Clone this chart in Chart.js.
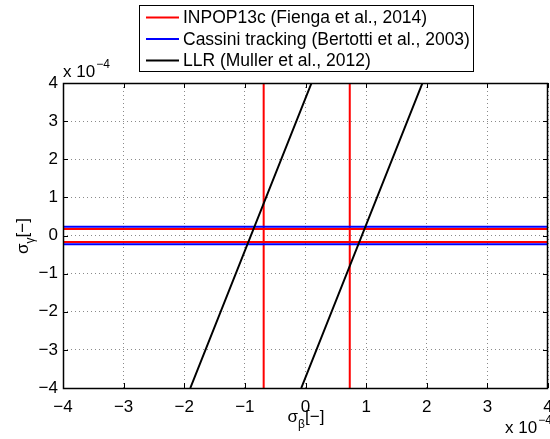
<!DOCTYPE html>
<html lang="en">
<head>
<meta charset="UTF-8">
<title>sigma beta / sigma gamma</title>
<style>
  html, body { margin: 0; padding: 0; background: #fff; }
</style>
</head>
<body>
<canvas id="myChart" width="550" height="439"></canvas>
<script src="https://cdn.jsdelivr.net/npm/chart.js@4.4.0/dist/chart.umd.min.js"></script>
<script>
// values in units of 1e-4
const seriesNames = ['INPOP13c (Fienga et al., 2014)', 'Cassini tracking (Bertotti et al., 2003)', 'LLR (Muller et al., 2012)'];
const seriesColors = ['#ff0000', '#0000ff', '#000000'];
const axisTicks = [-4, -3, -2, -1, 0, 1, 2, 3, 4];
const axisRange = [-4, 4];
const inpopBeta = [-0.69, 0.73];
const inpopGamma = [-0.17, 0.17];
const cassiniGamma = [-0.23, 0.23];
const llrBetaBottom = [-1.9, -0.07];
const llrBetaTop = [0.1, 1.93];

const FONT = 'Helvetica, "Liberation Sans", Arial, sans-serif';
const lo = axisRange[0], hi = axisRange[1];
const gap = { x: null, y: null };

function vLines(xs) {
    let out = [];
    xs.forEach(b => { out.push({ x: b, y: lo }, { x: b, y: hi }, gap); });
    return out;
}
function hLines(ys) {
    let out = [];
    ys.forEach(g => { out.push({ x: lo, y: g }, { x: hi, y: g }, gap); });
    return out;
}
let llrData = [];
llrBetaBottom.forEach((b, i) => { llrData.push({ x: b, y: lo }, { x: llrBetaTop[i], y: hi }, gap); });

const fmt = v => v < 0 ? '\u2212' + Math.abs(v) : String(v);

// box, inward ticks, titles, legend (matlab look)
const decor = {
    id: 'decor',
    afterDraw(chart) {
        const ctx = chart.ctx;
        const a = chart.chartArea;
        const xs = chart.scales.x, ys = chart.scales.y;
        ctx.save();
        ctx.strokeStyle = '#000';
        ctx.lineWidth = 1;
        ctx.beginPath();
        axisTicks.forEach(v => {
            const px = Math.round(xs.getPixelForValue(v)) + 0.5;
            ctx.moveTo(px, a.bottom); ctx.lineTo(px, a.bottom - 5);
            ctx.moveTo(px, a.top); ctx.lineTo(px, a.top + 5);
            const py = Math.round(ys.getPixelForValue(v)) + 0.5;
            ctx.moveTo(a.left, py); ctx.lineTo(a.left + 5, py);
            ctx.moveTo(a.right, py); ctx.lineTo(a.right - 5, py);
        });
        ctx.stroke();
        ctx.lineWidth = 1.5;
        ctx.strokeRect(Math.round(a.left) + 0.5, Math.round(a.top) + 0.5, Math.round(a.right - a.left) - 1, Math.round(a.bottom - a.top));

        ctx.fillStyle = '#000';
        // axis titles with subscripts
        function subTitle(sub, cx, base) {
            ctx.font = '17px ' + FONT;
            const w1 = ctx.measureText('\u03c3').width;
            const w3 = ctx.measureText('[\u2212]').width;
            ctx.font = '12px ' + FONT;
            const w2 = ctx.measureText(sub).width;
            let x = cx - (w1 + w2 + w3) / 2;
            ctx.textAlign = 'left';
            ctx.textBaseline = 'alphabetic';
            ctx.font = '17px ' + FONT;
            ctx.fillText('\u03c3', x, base);
            ctx.font = '12px ' + FONT;
            ctx.fillText(sub, x + w1, base + 6);
            ctx.font = '17px ' + FONT;
            ctx.fillText('[\u2212]', x + w1 + w2, base);
        }
        subTitle('\u03b2', 306, 422);
        ctx.save();
        ctx.translate(28, 236);
        ctx.rotate(-Math.PI / 2);
        subTitle('\u03b3', 0, 0);
        ctx.restore();

        // exponent labels
        function expo(x, base) {
            ctx.textAlign = 'left';
            ctx.font = '17px ' + FONT;
            ctx.fillText('x 10', x, base);
            const w = ctx.measureText('x 10').width;
            ctx.font = '12px ' + FONT;
            ctx.fillText('\u22124', x + w + 1, base - 9);
        }
        expo(63, 77);
        expo(505, 433);

        // legend
        const L = { left: 139.5, top: 5.5, right: 473.5, bottom: 71.5 };
        ctx.fillStyle = '#fff';
        ctx.fillRect(L.left, L.top, L.right - L.left, L.bottom - L.top);
        ctx.strokeStyle = '#000';
        ctx.lineWidth = 1;
        ctx.strokeRect(L.left, L.top, L.right - L.left, L.bottom - L.top);
        const rowY = [17.5, 39, 60.5];
        chart.data.datasets.forEach((ds, i) => {
            ctx.strokeStyle = ds.borderColor;
            ctx.lineWidth = 2;
            ctx.beginPath();
            ctx.moveTo(146, rowY[i]); ctx.lineTo(179, rowY[i]);
            ctx.stroke();
            ctx.fillStyle = '#000';
            ctx.font = '17.5px ' + FONT;
            ctx.textBaseline = 'middle';
            ctx.fillText(ds.label, 183, rowY[i] + 1);
        });
        ctx.restore();
    }
};

const ctx = document.getElementById('myChart').getContext('2d');
const myChart = new Chart(ctx, {
    type: 'scatter',
    data: {
        datasets: [
            { label: seriesNames[0], data: vLines(inpopBeta).concat(hLines(inpopGamma)), borderColor: seriesColors[0], order: 3 },
            { label: seriesNames[1], data: hLines(cassiniGamma), borderColor: seriesColors[1], order: 2 },
            { label: seriesNames[2], data: llrData, borderColor: seriesColors[2], order: 1 }
        ]
    },
    options: {
        responsive: false,
        animation: false,
        showLine: true,
        spanGaps: false,
        layout: { padding: { top: 83, right: 2, left: 0, bottom: 0 } },
        elements: {
            point: { radius: 0, hoverRadius: 0 },
            line: { borderWidth: 2, tension: 0, fill: false }
        },
        plugins: { legend: { display: false }, tooltip: { enabled: false } },
        scales: {
            x: {
                type: 'linear', min: lo, max: hi,
                afterBuildTicks: s => { s.ticks = axisTicks.map(v => ({ value: v })); },
                afterFit: s => { s.height = 51; s.paddingLeft = 0; s.paddingRight = 0; },
                grid: { color: '#8a8a8a', drawTicks: false, lineWidth: 1, borderDash: [1, 3] },
                border: { display: false, dash: [1, 3] },
                ticks: { padding: 9, color: '#000', font: { size: 17, family: FONT }, autoSkip: false, maxRotation: 0, callback: fmt }
            },
            y: {
                type: 'linear', min: lo, max: hi,
                afterBuildTicks: s => { s.ticks = axisTicks.map(v => ({ value: v })); },
                afterFit: s => { s.width = 63; s.paddingTop = 0; s.paddingBottom = 0; },
                grid: { color: '#8a8a8a', drawTicks: false, lineWidth: 1, borderDash: [1, 3] },
                border: { display: false, dash: [1, 3] },
                ticks: { padding: 5, color: '#000', font: { size: 17, family: FONT }, autoSkip: false, callback: fmt }
            }
        }
    },
    plugins: [decor]
});
</script>
</body>
</html>
